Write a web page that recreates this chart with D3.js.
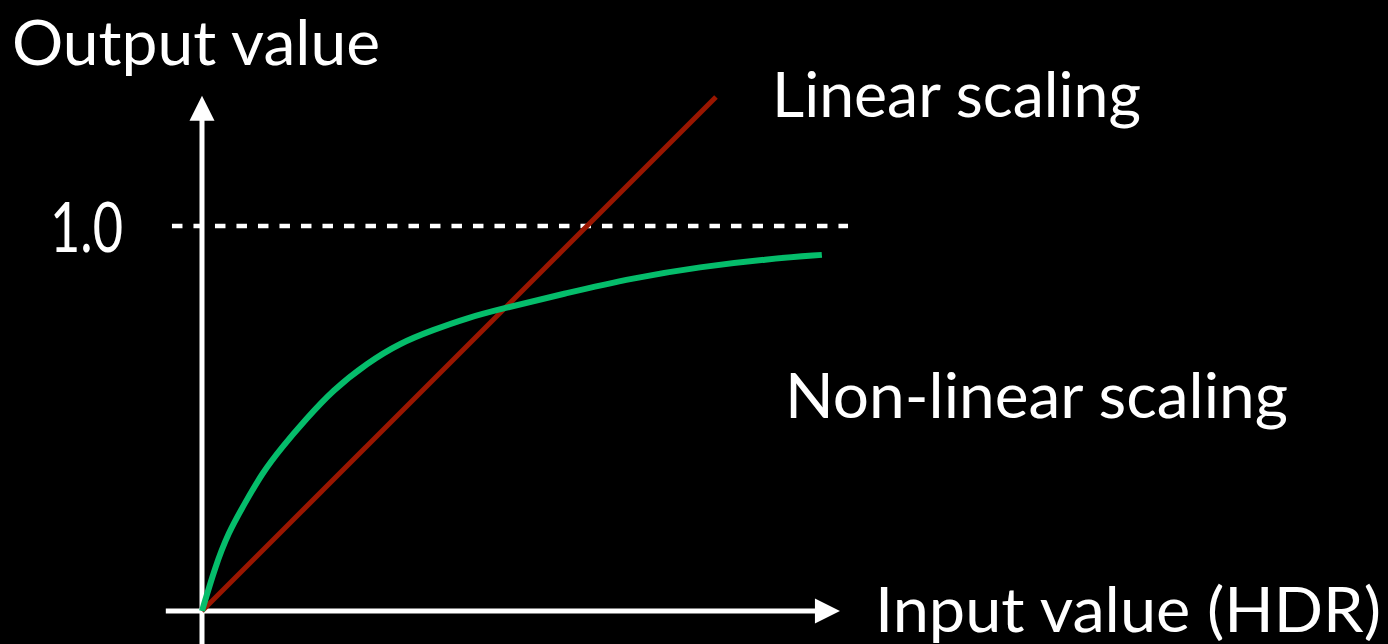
<!DOCTYPE html>
<html>
<head>
<meta charset="utf-8">
<script src="https://cdn.jsdelivr.net/npm/d3@7"></script>
<style>
  html, body { margin: 0; padding: 0; background: #000; }
  svg { display: block; }
  text { font-family: "Lato", "Open Sans", sans-serif; fill: #fff; }
</style>
</head>
<body>
<svg id="chart" width="1388" height="644"></svg>
<script>
// ---- data (in chart units; 1.0 = saturation level) ----
const curveX = [0, 0.034, 0.068, 0.112, 0.156, 0.208, 0.268, 0.340, 0.429, 0.514, 0.600, 0.688, 0.774, 0.948, 1.119, 1.294, 1.468, 1.610];
const curveY = [0, 0.114, 0.203, 0.281, 0.358, 0.426, 0.496, 0.574, 0.644, 0.696, 0.730, 0.761, 0.784, 0.826, 0.865, 0.894, 0.914, 0.925];
const linearX = [0, 1.335];
const linearY = [0, 1.335];
const yTickValues = [1.0];
const yTickLabels = ["1.0"];
const xAxisExtent = [-0.094, 1.657];
const yAxisExtent = [-0.1, 1.338];
const dashExtent = [-0.078, 1.678];
const labels = {
  yTitle: "Output value",
  xTitle: "Input value (HDR)",
  linear: "Linear scaling",
  nonlinear: "Non-linear scaling"
};

const svg = d3.select("#chart");
svg.append("rect").attr("width", 1388).attr("height", 644).attr("fill", "#000");

const x = d3.scaleLinear().domain([0, 1]).range([202, 587]);
const y = d3.scaleLinear().domain([0, 1]).range([611, 226]);

const axisColor = "#ffffff";
const arrowLen = 25, arrowHalf = 12.5;

// y axis
svg.append("line")
  .attr("x1", x(0)).attr("x2", x(0))
  .attr("y1", y(yAxisExtent[0])).attr("y2", y(yAxisExtent[1]) + arrowLen - 1)
  .attr("stroke", axisColor).attr("stroke-width", 5);
svg.append("path")
  .attr("d", `M${x(0)},${y(yAxisExtent[1])} L${x(0) - arrowHalf},${y(yAxisExtent[1]) + arrowLen} L${x(0) + arrowHalf},${y(yAxisExtent[1]) + arrowLen} Z`)
  .attr("fill", axisColor);

// x axis
svg.append("line")
  .attr("x1", x(xAxisExtent[0])).attr("x2", x(xAxisExtent[1]) - arrowLen + 1)
  .attr("y1", y(0)).attr("y2", y(0))
  .attr("stroke", axisColor).attr("stroke-width", 5);
svg.append("path")
  .attr("d", `M${x(xAxisExtent[1])},${y(0)} L${x(xAxisExtent[1]) - arrowLen},${y(0) - arrowHalf} L${x(xAxisExtent[1]) - arrowLen},${y(0) + arrowHalf} Z`)
  .attr("fill", axisColor);

// dashed 1.0 line + tick label
yTickValues.forEach((v, i) => {
  svg.append("line")
    .attr("x1", x(dashExtent[0])).attr("x2", x(dashExtent[1]))
    .attr("y1", y(v)).attr("y2", y(v))
    .attr("stroke", axisColor).attr("stroke-width", 4.5)
    .attr("stroke-dasharray", "10.5,11");
  svg.append("text")
    .attr("x", 50).attr("y", y(v) + 26)
    .attr("font-size", 70)
    .attr("textLength", 73).attr("lengthAdjust", "spacingAndGlyphs")
    .text(yTickLabels[i]);
});

// linear line
const lineGen = d3.line().x(d => x(d[0])).y(d => y(d[1]));
svg.append("path")
  .datum(linearX.map((d, i) => [d, linearY[i]]))
  .attr("d", lineGen)
  .attr("fill", "none").attr("stroke", "#9a1600").attr("stroke-width", 5);

// non-linear curve
const curveGen = d3.line().x(d => x(d[0])).y(d => y(d[1])).curve(d3.curveBasis);
svg.append("path")
  .datum(curveX.map((d, i) => [d, curveY[i]]))
  .attr("d", curveGen)
  .attr("fill", "none").attr("stroke", "#05bd6b").attr("stroke-width", 6)
  .attr("stroke-linecap", "butt");

// labels
function label(t, xs, ys, len) {
  svg.append("text")
    .attr("x", xs).attr("y", ys)
    .attr("font-size", 62)
    .attr("textLength", len).attr("lengthAdjust", "spacingAndGlyphs")
    .text(t);
}
label(labels.yTitle, 12, 65, 368);
label(labels.linear, 772, 117, 369);
label(labels.nonlinear, 785, 418, 503);
label(labels.xTitle, 875, 632, 506);
</script>
</body>
</html>
